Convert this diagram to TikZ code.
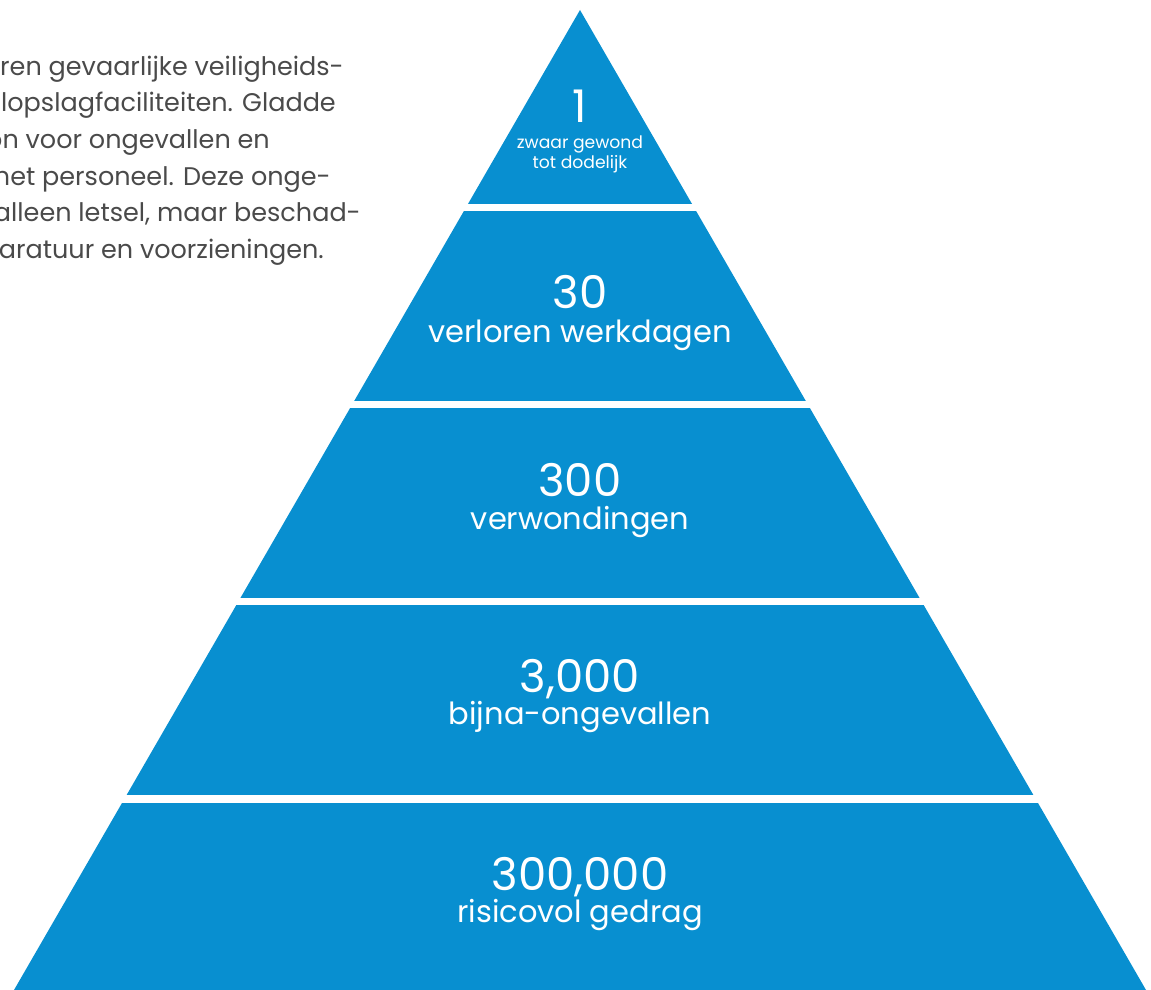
\documentclass[tikz,border=0pt]{standalone}
\usepackage{fontspec}
\setmainfont{Poppins}
\usepackage{tikz}
\usetikzlibrary{calc}

\definecolor{pyrblue}{HTML}{088FD0}
\definecolor{txtgrey}{HTML}{4A4A4A}

\begin{document}
\begin{tikzpicture}[x=1pt,y=-1pt,
    num/.style={anchor=base,text=white,inner sep=0pt,font=\fontsize{45}{45}\selectfont},
    lbl/.style={anchor=base,text=white,inner sep=0pt,font=\fontsize{30.5}{30.5}\selectfont},
    small/.style={anchor=base,text=white,inner sep=0pt,font=\fontsize{17.2}{17.2}\selectfont},
    txt/.style={anchor=base east,text=txtgrey,inner sep=0pt,font=\fontsize{25.5}{25.5}\selectfont}]
      \useasboundingbox (0,0) rectangle (1151,990);

      \coordinate (top) at (580,10);
      \coordinate (bl) at (14,990);
      \coordinate (br) at (1146,990);

      % the pyramid, cut into five bands
      \begin{scope}
        \clip (top) -- (bl) -- (br) -- cycle;
        \foreach \t/\b in {0/203.5, 211/401, 408/597.5, 605/795, 802.5/990}
          \fill[pyrblue] (0,\t) rectangle (1151,\b);
      \end{scope}

      \node[num] (n1) at (580,122) {1};
      \node[small] (l1a) at (580,148) {zwaar gewond};
      \node[small] (l1b) at (580,168) {tot dodelijk};

      \node[num] (n30) at (580,308) {30};
      \node[lbl] (l30) at (580,342) {verloren werkdagen};

      \node[num] (n300) at (580,496) {300};
      \node[lbl] (l300) at (580,529) {verwondingen};

      \node[num] (n3k) at (580,692) {3,000};
      \node[lbl] (l3k) at (580,724) {bijna-ongevallen};

      \node[num] (n300k) at (580,890) {300,000};
      \node[lbl] (l300k) at (580,922) {risicovol gedrag};

      % running text on the left
      \node[txt] (t1) at (344,75) {ren gevaarlijke veiligheids-};
      \node[txt] (t2) at (336,111.5) {lopslagfaciliteiten. Gladde};
      \node[txt] (t3) at (270,148) {on voor ongevallen en};
      \node[txt] (t4) at (331,185) {het personeel. Deze onge-};
      \node[txt] (t5) at (361,221.5) {alleen letsel, maar beschad-};
      \node[txt] (t6) at (324,258) {aratuur en voorzieningen.};

    \end{tikzpicture}
\end{document}
